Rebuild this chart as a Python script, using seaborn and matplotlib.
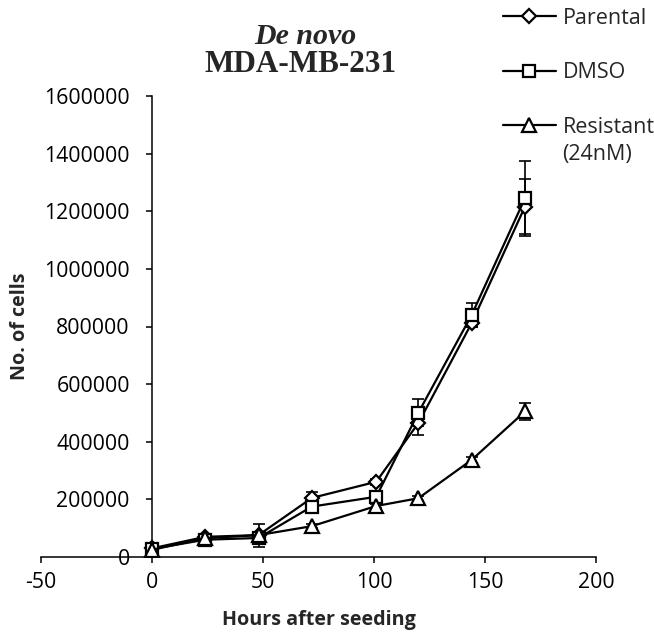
import matplotlib
matplotlib.use("Agg")
import matplotlib.pyplot as plt
import seaborn as sns
import pandas as pd
import numpy as np
from matplotlib.lines import Line2D

hours = [0, 24, 48, 72, 101, 120, 144, 168]
parental = [30000, 70000, 76000, 205000, 261000, 465000, 812000, 1216000]
parental_err = [5000, 8000, 40000, 20000, 10000, 40000, 15000, 95000]
dmso = [28000, 60000, 66000, 175000, 209000, 501000, 840000, 1245000]
dmso_err = [5000, 8000, 10000, 15000, 15000, 47000, 40000, 130000]
resistant = [25000, 65000, 76000, 107000, 177000, 204000, 337000, 505000]
resistant_err = [3000, 5000, 5000, 8000, 8000, 8000, 10000, 28000]
series_names = ["Parental", "DMSO", "Resistant"]
legend_extra = "(24nM)"
xticks = [-50, 0, 50, 100, 150, 200]
yticks = [0, 200000, 400000, 600000, 800000, 1000000, 1200000, 1400000, 1600000]

sns.set_style("white")
plt.rcParams['font.family'] = ['Open Sans', 'DejaVu Sans']

df = pd.DataFrame({
    "hours": hours * 3,
    "cells": parental + dmso + resistant,
    "err": parental_err + dmso_err + resistant_err,
    "series": [series_names[0]] * len(hours) + [series_names[1]] * len(hours) + [series_names[2]] * len(hours),
})

fig = plt.figure(figsize=(6.54, 6.36), dpi=100)
ax = fig.add_axes([41/654, 1-557/636, (596-41)/654, (557-96)/636])

markers = {series_names[0]: "D", series_names[1]: "s", series_names[2]: "^"}
msize = {series_names[0]: 7.5, series_names[1]: 9, series_names[2]: 10}

sns.lineplot(data=df, x="hours", y="cells", hue="series", style="series",
             palette=["black"] * 3, markers=markers, dashes=False,
             linewidth=1.6, ax=ax, legend=False, zorder=3, sort=False)

for line, name in zip(ax.lines[:3], series_names):
    line.set_markerfacecolor("white")
    line.set_markeredgecolor("black")
    line.set_markeredgewidth(1.6)
    line.set_markersize(msize[name])

for name in series_names:
    sub = df[df["series"] == name]
    ax.errorbar(sub["hours"], sub["cells"], yerr=sub["err"], fmt="none",
                ecolor="black", elinewidth=1.2, capsize=4.5, capthick=1.2, zorder=2)

ax.set_xlim(-50, 200)
ax.set_ylim(0, 1600000)
ax.set_xticks(xticks)
ax.set_yticks(yticks)
ax.set_xticklabels([str(v) for v in xticks])
ax.set_yticklabels([str(v) for v in yticks])

ax.spines["top"].set_visible(False)
ax.spines["right"].set_visible(False)
ax.spines["left"].set_position(("data", 0))
for s in ["left", "bottom"]:
    ax.spines[s].set_color("black")
    ax.spines[s].set_linewidth(1.1)
ax.tick_params(axis="both", direction="out", length=4, width=1.1, colors="black",
               labelsize=15.3, left=True, bottom=True)
ax.tick_params(axis="y", pad=12)
ax.tick_params(axis="x", pad=7)

ax.set_xlabel("Hours after seeding", fontsize=14.2, fontweight="bold")
ax.xaxis.label.set_va("center")
ax.xaxis.set_label_coords(0.5, (557-620)/461)
ax.set_ylabel("")
fig.text(20/654, 1-326/636, "No. of cells", rotation=90, ha="center", va="center",
         fontsize=14.2, fontweight="bold")

fig.text(305/654, 1-36/636, "De novo", ha="center", va="center",
         fontsize=21.5, fontweight="bold", fontstyle="italic", family="Liberation Serif")
fig.text(301/654, 1-65/636, "MDA-MB-231", ha="center", va="center",
         fontsize=22.5, fontweight="bold", family="Liberation Serif")

handles = []
for name in series_names:
    h = Line2D([0], [0], color="black", linewidth=1.6, marker=markers[name],
               markersize=msize[name], markerfacecolor="white",
               markeredgecolor="black", markeredgewidth=1.6)
    handles.append(h)
fig.legend(handles, series_names, loc="upper left", bbox_to_anchor=(503/654, 1 - 8/636),
           frameon=False, fontsize=15.5, handlelength=2.45, handletextpad=0.33,
           labelspacing=1.55, borderaxespad=0, borderpad=0)
fig.text(562/654, 1-154/636, legend_extra, ha="left", va="center", fontsize=15.5)

fig.savefig("out.png", dpi=100)
